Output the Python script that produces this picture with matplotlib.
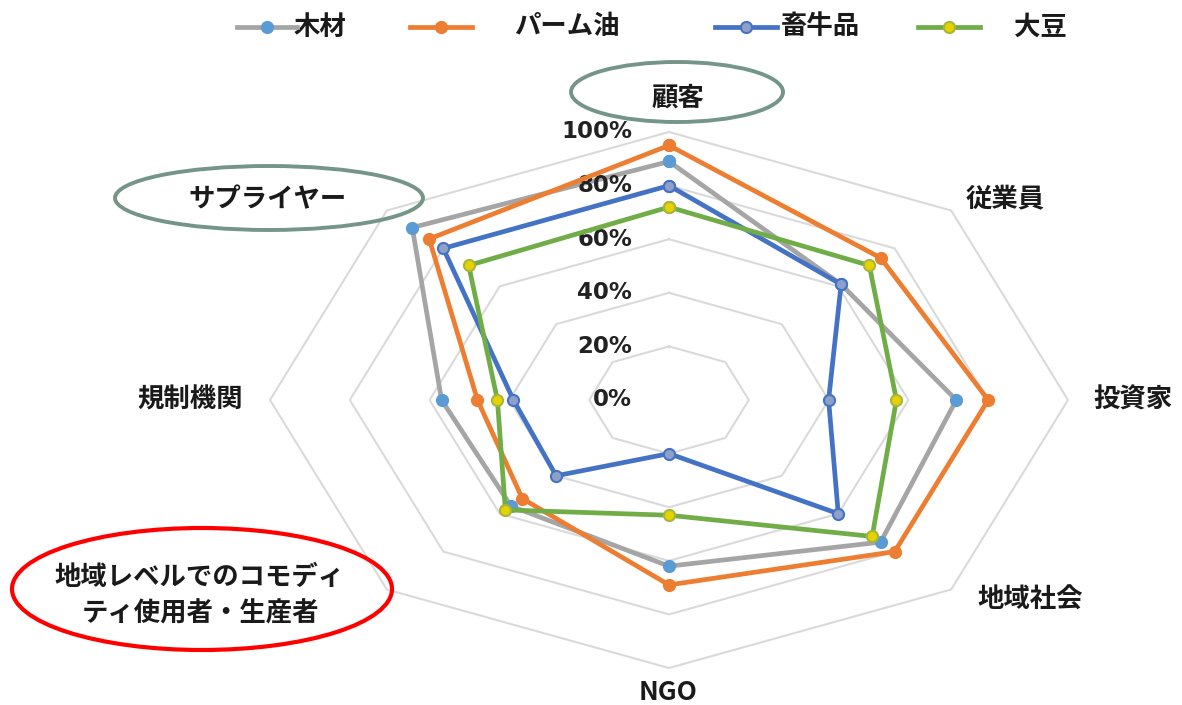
import numpy as np
import matplotlib
matplotlib.use('Agg')
import matplotlib.pyplot as plt
from matplotlib.patches import Ellipse

plt.rcParams['font.family'] = ['Noto Sans CJK JP', 'DejaVu Sans']

categories = ['顧客', '従業員', '投資家', '地域社会', 'NGO',
              '地域レベルでのコモディ\nティ使用者・生産者', '規制機関', 'サプライヤー']
series_names = ['木材', 'パーム油', '畜牛品', '大豆']
wood = [0.89, 0.61, 0.72, 0.75, 0.62, 0.56, 0.57, 0.91]
palm = [0.95, 0.75, 0.80, 0.80, 0.69, 0.52, 0.48, 0.85]
cattle = [0.80, 0.61, 0.40, 0.60, 0.20, 0.40, 0.39, 0.80]
soy = [0.72, 0.71, 0.57, 0.72, 0.43, 0.58, 0.43, 0.71]
ticks = [0, 0.2, 0.4, 0.6, 0.8, 1.0]
tick_labels = ['0%', '20%', '40%', '60%', '80%', '100%']

line_colors = ['#a5a5a5', '#ed7d31', '#4472c4', '#70ad47']
face_colors = ['#5b9bd5', '#ed7d31', '#8e9fc8', '#e6d200']
edge_colors = ['#5b9bd5', '#ed7d31', '#4472c4', '#a9b43a']

# chart centre and radius in pixels (picture is stretched sideways)
CX, CY, RX, RY = 669, 400, 399, 268
W, H = 1182, 705

fig = plt.figure(figsize=(W / 100, H / 100), dpi=100)
ax = fig.add_axes([0, 0, 1, 1])
ax.set_xlim(-CX / RX, (W - CX) / RX)
ax.set_ylim(-(H - CY) / RY, CY / RY)
ax.axis('off')


def P(px, py):
    return (px - CX) / RX, (CY - py) / RY


theta = np.arange(len(categories)) * 2 * np.pi / len(categories)


def xy(vals):
    v = np.append(vals, vals[0])
    t = np.append(theta, theta[0])
    return v * np.sin(t), v * np.cos(t)


# grid rings
for r in ticks[1:]:
    x, y = xy(np.full(len(categories), r))
    ax.plot(x, y, color='#dadada', lw=1.5, zorder=1)

for i, vals in enumerate([wood, palm, cattle, soy]):
    x, y = xy(np.array(vals))
    ax.plot(x, y, color=line_colors[i], lw=3.4, zorder=3 + i,
            marker='o', ms=8, mfc=face_colors[i], mec=edge_colors[i], mew=1.5)

# radial tick labels
for r, lab in zip(ticks, tick_labels):
    tx, _ = P(632, 0)
    ax.text(tx, r, lab, ha='right', va='center', fontsize=16.5,
            fontweight='bold', family='DejaVu Sans', color='#222222')

# category labels
label_pos = [(678, 98), (1005, 200), (1133, 400), (1030, 600), (668, 692),
             (200, 596), (190, 400), (268, 200)]
for lab, (px, py) in zip(categories, label_pos):
    ax.text(*P(px, py), lab, ha='center', va='center', fontsize=19,
            fontweight='bold', color='#1a1a1a', linespacing=1.45)

# highlight ellipses
ax.add_patch(Ellipse(P(677, 92), 212 / RX, 60 / RY, fill=False,
                     ec='#769589', lw=2.8, zorder=10))
ax.add_patch(Ellipse(P(269, 198), 308 / RX, 64 / RY, fill=False,
                     ec='#769589', lw=2.8, zorder=10))
ax.add_patch(Ellipse(P(202, 589), 380 / RX, 122 / RY, fill=False,
                     ec='#ff0000', lw=3.0, zorder=10))

# legend drawn along the top
leg = [(237, 297, 267, 320), (410, 472, 441, 567), (715, 777, 746, 820), (918, 980, 949, 1040)]
for i, (x0, x1, xm, xt) in enumerate(leg):
    a, ly = P(x0, 27)
    b, _ = P(x1, 27)
    m, _ = P(xm, 27)
    ax.plot([a, b], [ly, ly], color=line_colors[i], lw=3.4, zorder=5)
    ax.plot([m], [ly], marker='o', ms=8, mfc=face_colors[i], mec=edge_colors[i], mew=1.5, zorder=6)
    ax.text(*P(xt, 27), series_names[i], ha='center', va='center',
            fontsize=19, fontweight='bold', color='#1a1a1a')

fig.savefig('out.png', dpi=100)
